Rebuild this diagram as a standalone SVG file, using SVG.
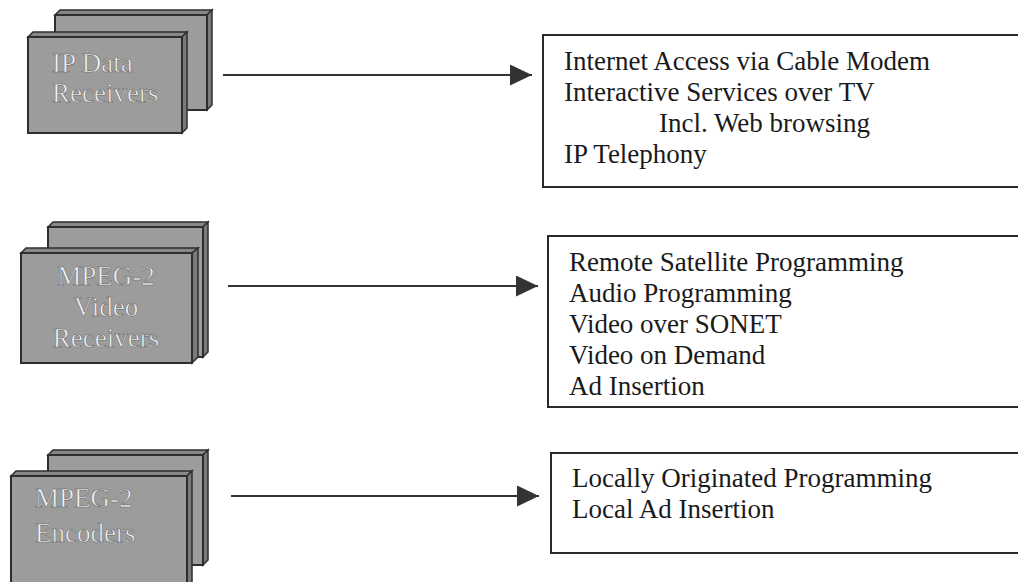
<svg xmlns="http://www.w3.org/2000/svg" width="1018" height="582" viewBox="0 0 1018 582">
  <defs>
    <style>
      .face{fill:#9c9c9c;stroke:#2e2e2e;stroke-width:2}
      .top{fill:#878787;stroke:#2e2e2e;stroke-width:1.5}
      .side{fill:#7a7a7a;stroke:#2e2e2e;stroke-width:1.5}
      .ntext{font-family:"Liberation Serif","Times New Roman",serif;font-size:27px;fill:#f2f2f2;stroke:#5a5a5a;stroke-width:0.5}
      .box{fill:#ffffff;stroke:#2a2a2a;stroke-width:2}
      .btext{font-family:"Liberation Serif","Times New Roman",serif;font-size:27px;fill:#1a1a1a}
      .conn{stroke:#333333;stroke-width:2;fill:none}
    </style>
    <marker id="arr" markerWidth="22" markerHeight="21" refX="22" refY="10.5" orient="auto" markerUnits="userSpaceOnUse">
      <path d="M0,0 L22,10.5 L0,21 Z" fill="#333333"/>
    </marker>
  </defs>
  <rect width="1018" height="582" fill="#ffffff"/>

  <g id="node-ip-data">
    <polygon class="top" points="55,15 60,10 212,10 207,15"/>
    <polygon class="side" points="207,15 212,10 212,105 207,110"/>
    <rect class="face" x="55" y="15" width="152" height="95"/>
    <polygon class="top" points="28,37 33,32 187,32 182,37"/>
    <polygon class="side" points="182,37 187,32 187,128 182,133"/>
    <rect class="face" x="28" y="37" width="154" height="96"/>
    <text class="ntext" x="52" y="72">IP Data</text>
    <text class="ntext" x="52" y="102">Receivers</text>
  </g>

  <g id="node-mpeg-video">
    <polygon class="top" points="48,227 53,222 208,222 203,227"/>
    <polygon class="side" points="203,227 208,222 208,352 203,357"/>
    <rect class="face" x="48" y="227" width="155" height="130"/>
    <polygon class="top" points="21,253 26,248 198,248 192,253"/>
    <polygon class="side" points="192,253 198,248 198,357 192,363"/>
    <rect class="face" x="21" y="253" width="171" height="110"/>
    <text class="ntext" x="106" y="285" text-anchor="middle">MPEG-2</text>
    <text class="ntext" x="106" y="316" text-anchor="middle">Video</text>
    <text class="ntext" x="106" y="347" text-anchor="middle">Receivers</text>
  </g>

  <g id="node-mpeg-enc">
    <polygon class="top" points="48,455 53,450 208,450 203,455"/>
    <polygon class="side" points="203,455 208,450 208,560 203,565"/>
    <rect class="face" x="48" y="455" width="155" height="110"/>
    <polygon class="top" points="11,476 16,471 192,471 187,476"/>
    <polygon class="side" points="187,476 192,471 192,600 187,605"/>
    <rect class="face" x="11" y="476" width="176" height="130"/>
    <text class="ntext" x="35" y="507">MPEG-2</text>
    <text class="ntext" x="35" y="542">Encoders</text>
  </g>

  <g id="connectors">
    <line class="conn" x1="223" y1="75" x2="532" y2="75" marker-end="url(#arr)"/>
    <line class="conn" x1="228" y1="286" x2="538" y2="286" marker-end="url(#arr)"/>
    <line class="conn" x1="231" y1="496" x2="539" y2="496" marker-end="url(#arr)"/>
  </g>

  <g id="box-ip-services">
    <rect class="box" x="543" y="35" width="490" height="152"/>
    <text class="btext" x="564" y="70">Internet Access via Cable Modem</text>
    <text class="btext" x="564" y="101">Interactive Services over TV</text>
    <text class="btext" x="659" y="132">Incl. Web browsing</text>
    <text class="btext" x="564" y="163">IP Telephony</text>
  </g>

  <g id="box-video-services">
    <rect class="box" x="548" y="236" width="485" height="171"/>
    <text class="btext" x="569" y="271">Remote Satellite Programming</text>
    <text class="btext" x="569" y="302">Audio Programming</text>
    <text class="btext" x="569" y="333">Video over SONET</text>
    <text class="btext" x="569" y="364">Video on Demand</text>
    <text class="btext" x="569" y="395">Ad Insertion</text>
  </g>

  <g id="box-local-services">
    <rect class="box" x="551" y="453" width="482" height="100"/>
    <text class="btext" x="572" y="487">Locally Originated Programming</text>
    <text class="btext" x="572" y="518">Local Ad Insertion</text>
  </g>
</svg>
